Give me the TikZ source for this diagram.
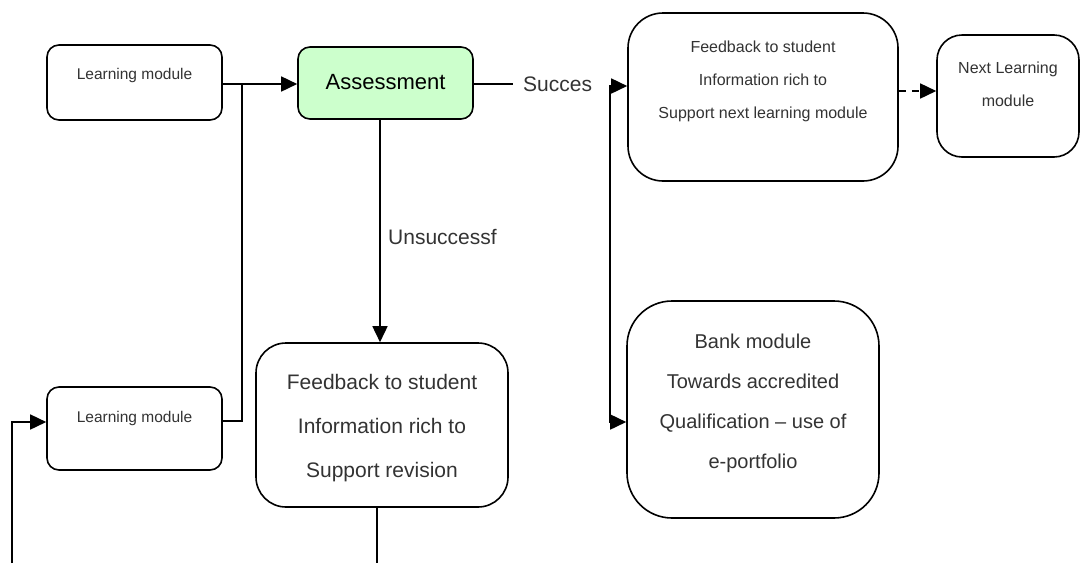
\documentclass[tikz,border=0pt]{standalone}
\usepackage{fontspec}
\setmainfont{Liberation Sans}
\usetikzlibrary{arrows.meta}
\definecolor{assessgreen}{HTML}{CCFFCC}
\tikzset{my box/.style={draw, line width=1.6pt, rounded corners=12pt, fill=white},
my text/.style={align=center, text=black!80, inner sep=0pt},
my line/.style={line width=1.6pt},
my arrow/.style={my line, -{Triangle[length=16pt,width=15pt]}},}

\begin{document}
\begin{tikzpicture}[x=1pt,y=-1pt]
\useasboundingbox (0,0) rectangle (1081,563);
\node [my box, minimum width=175, minimum height=75] (lm1) at (134.5,82.5) {};
\node [my text, font=\fontsize{15.5}{20}\selectfont] (lm1 text) at (134.5,75) {Learning module};
\node [my box, minimum width=175, minimum height=72, fill=assessgreen] (ass) at (385.5,83) {};
\node [my text, text=black, font=\fontsize{22}{26}\selectfont] (ass text) at (385.5,82) {Assessment};
\node [my box, minimum width=270, minimum height=168, rounded corners=35pt] (fb1) at (763,97) {};
\node [my text, font=\fontsize{16}{33}\selectfont] (fb1 text) at (763,81) {Feedback to student\\Information rich to\\Support next learning module};
\node [my box, minimum width=142, minimum height=122, rounded corners=25pt] (next) at (1008,96) {};
\node [my text, font=\fontsize{16}{33}\selectfont] (next text) at (1008,84.5) {Next Learning\\module};
\node [my box, minimum width=175, minimum height=83] (lm2) at (134.5,428.5) {};
\node [my text, font=\fontsize{15.5}{20}\selectfont] (lm2 text) at (134.5,418) {Learning module};
\node [my box, minimum width=252, minimum height=164, rounded corners=30pt] (fb2) at (382,425) {};
\node [my text, font=\fontsize{21}{44}\selectfont] (fb2 text) at (382,428) {Feedback to student\\Information rich to\\Support revision};
\node [my box, minimum width=252, minimum height=217, rounded corners=45pt] (bank) at (753,409.5) {};
\node [my text, font=\fontsize{20}{40}\selectfont] (bank text) at (753,403) {Bank module\\Towards accredited\\Qualification -- use of\\e-portfolio};
\node [my text, anchor=west, font=\fontsize{21}{25}\selectfont] (succes) at (523,84) {Succes};
\node [my text, anchor=west, font=\fontsize{21}{25}\selectfont] (unsucc) at (388,237) {Unsuccessf};
\coordinate (split) at (242,84);
\coordinate (brk) at (610,254);
\coordinate (loop end) at (12,563);
\coordinate (fb2 end) at (377,563);
\draw [my arrow] ([yshift=-1.5]lm1.east) -- ([yshift=-1]ass.west);
\draw [my line] ([yshift=7.5]lm2.east) -| (split);
\draw [my arrow] (loop end) |- ([yshift=6.5]lm2.west);
\draw [my line] ([yshift=-1]ass.east) -- ([xshift=-10]succes.west);
\draw [my arrow] ([xshift=-5.5]ass.south) -- ([xshift=-5.5]ass.south |- fb2.north);
\draw [my line] ([xshift=-5]fb2.south) -- (fb2 end);
\draw [my arrow] (brk) |- ([yshift=11]fb1.west);
\draw [my arrow] (brk) |- ([yshift=-12.5]bank.west);
\draw [my arrow, dash pattern=on 7pt off 6pt] ([yshift=6]fb1.east) -- ([yshift=5]next.west);
\end{tikzpicture}
\end{document}
